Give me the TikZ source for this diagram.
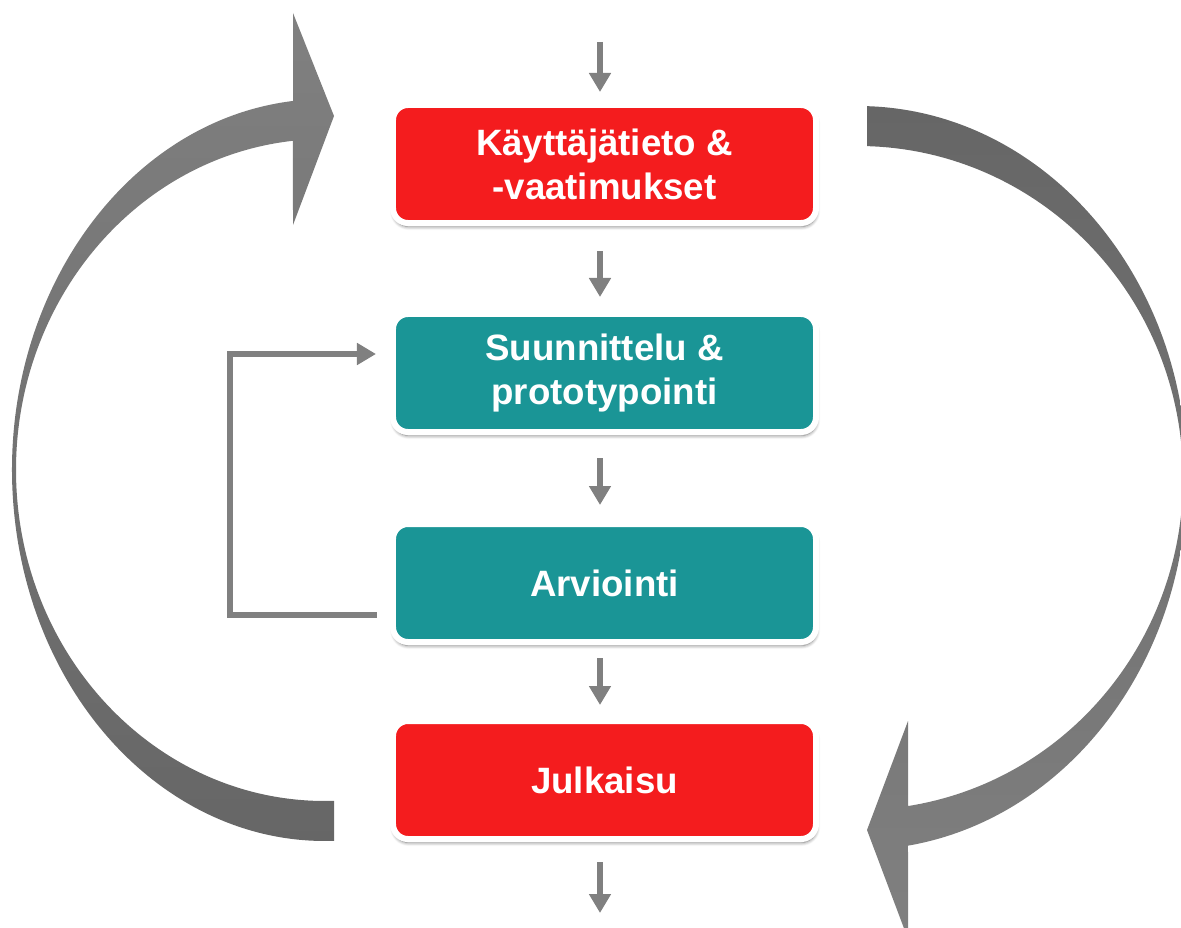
\documentclass[tikz,border=0pt]{standalone}
\usepackage{fontspec}
\setmainfont{Liberation Sans}
\usetikzlibrary{arrows.meta,calc,shadows.blur}
\definecolor{boxred}{RGB}{244,28,30}
\definecolor{boxteal}{RGB}{26,149,150}
\definecolor{arrgray}{RGB}{128,128,128}
\definecolor{dkgray}{RGB}{102,102,102}
\begin{document}
\begin{tikzpicture}[x=0.03cm,y=-0.03cm,
  stage/.style={draw=white, line width=0.18cm, rounded corners=0.45cm,
    minimum width=12.69cm, minimum height=3.54cm, text=white, align=center,
    font=\fontsize{31.3}{37.6}\selectfont\bfseries, inner sep=0pt,
    blur shadow={shadow xshift=0.5pt, shadow yshift=-3pt, shadow opacity=55, shadow blur steps=6, shadow blur radius=3pt}},
  redstage/.style={stage, fill=boxred},
  tealstage/.style={stage, fill=boxteal},
  flow/.style={draw=arrgray, line width=0.18cm, -{Triangle[length=0.57cm,width=0.63cm]}},
]
\useasboundingbox (0,0) rectangle (1181,928);
\clip (0,0) rectangle (1181,928);

% big curved arrows
\coordinate (lc) at (325,470);
\shade[top color=arrgray, bottom color=dkgray]
  ($(lc)+(264.13:313 and 371)$) arc[start angle=264.13, end angle=88.35, x radius=313, y radius=371]
  -- ($(lc)+(88.33:309 and 331)$) arc[start angle=88.33, end angle=264.05, x radius=309, y radius=331]
  -- (293,225) -- (334,116) -- (293,13) -- cycle;

\coordinate (rc) at (858,478);
\shade[top color=dkgray, bottom color=arrgray]
  ($(rc)+(-88.43:329 and 372)$) arc[start angle=-88.43, end angle=81.26, x radius=329, y radius=372]
  -- (908,939) -- (867,830) -- (908,721)
  -- ($(rc)+(81.15:325 and 332)$) arc[start angle=81.15, end angle=-88.41, x radius=325, y radius=332]
  -- cycle;

% stages
\node[redstage] (k) at (604.5,164) {Käyttäjätieto \&\\-vaatimukset};
\node[tealstage] (s) at (604.5,373) {Suunnittelu \&\\prototypointi};
\node[tealstage] (a) at (604.5,583) {Arviointi};
\node[redstage] (j) at (604.5,780) {Julkaisu};

% straight arrows
\coordinate (ax) at (600,0);
\coordinate (in) at (600,42);
\coordinate (out) at (600,913);
\draw[flow, shorten >=0.3cm] (in) -- (k.north -| ax);
\draw[flow, shorten <=0.75cm, shorten >=0.42cm] (k.south -| ax) -- (s.north -| ax);
\draw[flow, shorten <=0.69cm, shorten >=0.48cm] (s.south -| ax) -- (a.north -| ax);
\draw[flow, shorten <=0.39cm, shorten >=0.39cm] (a.south -| ax) -- (j.north -| ax);
\draw[flow, shorten <=0.6cm] (j.south -| ax) -- (out);

% feedback loop
\draw[flow] ([shift={(-13,32)}]a.west) -- ++(-147,0) |- ([shift={(-14,-19)}]s.west);
\end{tikzpicture}
\end{document}
